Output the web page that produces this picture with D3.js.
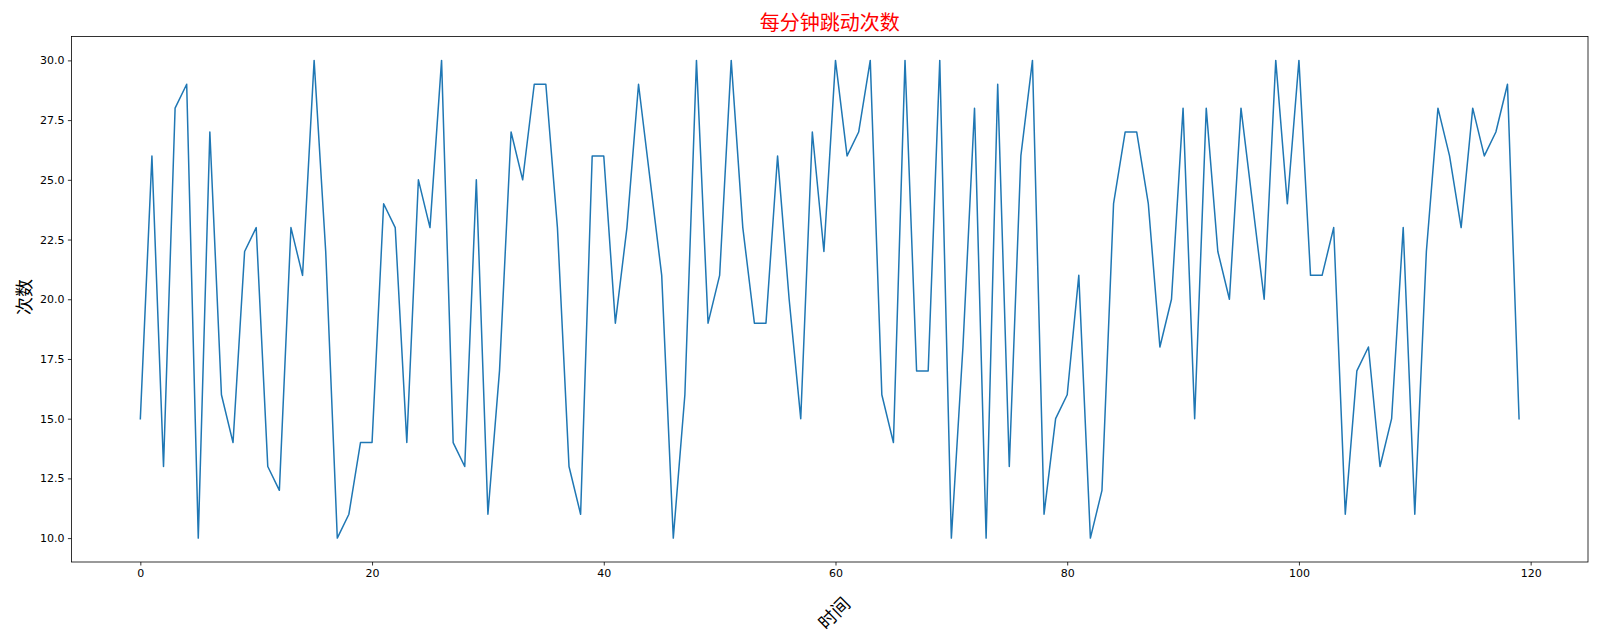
<!DOCTYPE html>
<html>
<head>
<meta charset="utf-8">
<script src="https://cdn.jsdelivr.net/npm/d3@7"></script>
<style>
  html, body { margin: 0; padding: 0; background: #fff; }
  svg { display: block; }
  .tick text { font-family: "DejaVu Sans", sans-serif; font-size: 11px; fill: #000; }
</style>
</head>
<body>
<svg id="chart" width="1600" height="640"></svg>
<script>
// ---- data ----
const titleText = "每分钟跳动次数";
const xLabelText = "时间";
const yLabelText = "次数";
const times = d3.range(0, 120);
const counts = [
  15, 26, 13, 28, 29, 10, 27, 16, 14, 22,
  23, 13, 12, 23, 21, 30, 22, 10, 11, 14,
  14, 24, 23, 14, 25, 23, 30, 14, 13, 25,
  11, 17, 27, 25, 29, 29, 23, 13, 11, 26,
  26, 19, 23, 29, 25, 21, 10, 16, 30, 19,
  21, 30, 23, 19, 19, 26, 20, 15, 27, 22,
  30, 26, 27, 30, 16, 14, 30, 17, 17, 30,
  10, 18, 28, 10, 29, 13, 26, 30, 11, 15,
  16, 21, 10, 12, 24, 27, 27, 24, 18, 20,
  28, 15, 28, 22, 20, 28, 24, 20, 30, 24,
  30, 21, 21, 23, 11, 17, 18, 13, 15, 23,
  11, 22, 28, 26, 23, 28, 26, 27, 29, 15
];
const xTicks = [0, 20, 40, 60, 80, 100, 120];
const yTicks = [10.0, 12.5, 15.0, 17.5, 20.0, 22.5, 25.0, 27.5, 30.0];

// ---- layout ----
const mLeft = 71.4, mRight = 1588, mTop = 36.5, mBottom = 562;

const svg = d3.select("#chart");

const x = d3.scaleLinear().domain([-5.95, 124.95]).range([mLeft, mRight]);
const y = d3.scaleLinear().domain([9, 31]).range([mBottom, mTop]);

// axes
const xAxis = d3.axisBottom(x).tickValues(xTicks).tickFormat(d3.format("d"))
  .tickSizeInner(3.5).tickSizeOuter(0).tickPadding(3.5);
const yAxis = d3.axisLeft(y).tickValues(yTicks).tickFormat(d3.format(".1f"))
  .tickSizeInner(3.5).tickSizeOuter(0).tickPadding(3.5);

const gx = svg.append("g").attr("transform", `translate(0,${mBottom})`).call(xAxis);
const gy = svg.append("g").attr("transform", `translate(${mLeft},0)`).call(yAxis);
[gx, gy].forEach(g => {
  g.select(".domain").remove();
  g.selectAll(".tick line").attr("stroke", "#000").attr("stroke-width", 0.8);
});

// line
const line = d3.line().x((d, i) => x(times[i])).y(d => y(d));
svg.append("path")
  .datum(counts)
  .attr("fill", "none")
  .attr("stroke", "#1f77b4")
  .attr("stroke-width", 1.5)
  .attr("stroke-linejoin", "round")
  .attr("stroke-linecap", "square")
  .attr("d", line);

// frame
svg.append("rect")
  .attr("x", mLeft).attr("y", mTop)
  .attr("width", mRight - mLeft).attr("height", mBottom - mTop)
  .attr("fill", "none").attr("stroke", "#000").attr("stroke-width", 0.8);

// title
svg.append("text")
  .attr("x", (mLeft + mRight) / 2).attr("y", 30)
  .attr("text-anchor", "middle")
  .attr("font-family", "'Noto Sans CJK SC', sans-serif")
  .attr("font-size", 20)
  .attr("fill", "red")
  .text(titleText);

// y label
svg.append("text")
  .attr("transform", "translate(31,297) rotate(-90)")
  .attr("text-anchor", "middle")
  .attr("font-family", "'Noto Sans CJK SC', sans-serif")
  .attr("font-size", 18)
  .attr("fill", "#000")
  .text(yLabelText);

// x label
svg.append("text")
  .attr("transform", "translate(833,612) rotate(-45)")
  .attr("text-anchor", "middle")
  .attr("dominant-baseline", "central")
  .attr("font-family", "'Noto Sans CJK SC', sans-serif")
  .attr("font-size", 18)
  .attr("fill", "#000")
  .text(xLabelText);
</script>
</body>
</html>
